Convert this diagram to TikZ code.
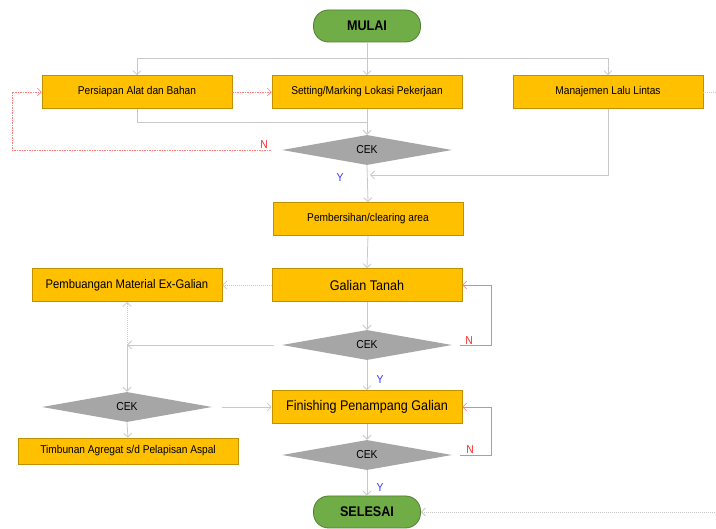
\documentclass[tikz,border=0pt]{standalone}
\usepackage{fontspec}
\setmainfont{Liberation Sans}[FakeStretch=0.9]
\usetikzlibrary{shapes.geometric,arrows.meta}
\definecolor{boxfill}{HTML}{FFC000}
\definecolor{boxline}{HTML}{BF9000}
\definecolor{greenfill}{HTML}{70AD47}
\definecolor{greenline}{HTML}{507E32}
\definecolor{decfill}{HTML}{A6A6A6}
\definecolor{conncol}{HTML}{C8C8C8}
\definecolor{nred}{HTML}{FF2B2B}
\definecolor{nline}{HTML}{FF7A7A}
\definecolor{yblue}{HTML}{3333FF}
\tikzset{
  procbox/.style={draw=boxline, line width=0.6pt, fill=boxfill, minimum width=190pt, minimum height=33pt, inner sep=2pt, font=\fontsize{11.3}{13}\selectfont},
  bigbox/.style={procbox, font=\fontsize{14}{16}\selectfont},
  termbox/.style={draw=greenline, line width=0.8pt, fill=greenfill, rounded corners=15pt, minimum width=107pt, minimum height=32pt, font=\fontsize{14}{16}\selectfont\bfseries},
  decbox/.style={diamond, fill=decfill, minimum width=170pt, minimum height=30pt, inner sep=0pt, aspect=5.6, font=\fontsize{11.5}{13}\selectfont},
  conn/.style={draw=conncol, line width=0.8pt},
  arr/.style={conn, -{Straight Barb[length=4pt,width=8pt]}},
  dotarr/.style={arr, dash pattern=on 1pt off 1pt},
  redarr/.style={draw=nline, line width=0.6pt, -{Straight Barb[length=4pt,width=8pt]}},
  reddot/.style={redarr, dash pattern=on 1.5pt off 1pt},
  nlab/.style={text=nred, font=\fontsize{11.5}{13}\selectfont},
  ylab/.style={text=yblue, font=\fontsize{11.5}{13}\selectfont},
}
\begin{document}
\begin{tikzpicture}[x=1pt,y=-1pt]
\clip (0,0) rectangle (716,529);
\fill[white] (0,0) rectangle (716,529);
% nodes
\node[termbox] (mulai) at (367,26) {MULAI};
\node[procbox] (pers) at (137,92) {Persiapan Alat dan Bahan};
\node[procbox] (set) at (367,92) {Setting/Marking Lokasi Pekerjaan};
\node[procbox] (man) at (608,92) {Manajemen Lalu Lintas};
\node[decbox] (cek1) at (367,150) {CEK};
\node[procbox] (pemb) at (368,219) {Pembersihan/clearing area};
\node[bigbox] (gal) at (367,285) {Galian Tanah};
\node[procbox, font=\fontsize{12.5}{14}\selectfont] (buang) at (127,285) {Pembuangan Material Ex-Galian};
\node[decbox] (cek2) at (367,345) {CEK};
\node[decbox] (cek3) at (127,407) {CEK};
\node[bigbox] (fin) at (367,407) {Finishing Penampang Galian};
\node[procbox, minimum width=220pt, minimum height=26pt] (timb) at (128,451) {Timbunan Agregat s/d Pelapisan Aspal};
\node[decbox] (cek4) at (367,455) {CEK};
\node[termbox] (sel) at (367,512) {SELESAI};
\coordinate (split) at (367,58);
\coordinate (j1) at (367,122);
\coordinate (j2) at (370,175);
\coordinate (j3) at (127,345);
% labels
\node[nlab] (n1) at (264,145) {N};
\node[ylab] (y1) at (340,178) {Y};
\node[nlab] (n2) at (469,341) {N};
\node[ylab] (y2) at (380,380) {Y};
\node[nlab] (n3) at (470,450) {N};
\node[ylab] (y3) at (380,488) {Y};
% connectors
\draw[conn] (mulai.south) -- (split);
\draw[arr] (split) -| (pers.north);
\draw[arr] (split) -| (man.north);
\draw[arr] (split) -- (set.north);
\draw[reddot] (pers.east) -- (set.west);
\draw[conn] (pers.south) |- (j1);
\draw[arr] (set.south) -- (cek1.north);
\draw[reddot] ([xshift=-11pt]cek1.west) -- (12,150) |- (pers.west);
\draw[arr] (man.south) |- (j2);
\draw[arr] (cek1.south) -- (pemb.north);
\draw[arr] (pemb.south) -- (gal.north);
\draw[dotarr] (gal.west) -- (buang.east);
\draw[arr] (gal.south) -- (cek2.north);
\draw[redarr] ([xshift=8pt]cek2.east) -- (491,345) |- (gal.east);
\draw[arr] ([xshift=-8pt]cek2.west) -- (j3);
\draw[dotarr] (j3) -- (buang.south);
\draw[arr] (j3) -- (cek3.north);
\draw[arr] ([xshift=10pt]cek3.east) -- (fin.west);
\draw[arr] (cek2.south) -- (fin.north);
\draw[arr] (cek3.south) -- (timb.north);
\draw[arr] (fin.south) -- (cek4.north);
\draw[redarr] ([xshift=8pt]cek4.east) -- (491,455) |- (fin.east);
\draw[arr] (cek4.south) -- (sel.north);
\draw[conn, dash pattern=on 1pt off 1pt] (man.east) -- ++(30,0) coordinate (off);
\draw[dotarr] (off) |- (sel.east);
\end{tikzpicture}
\end{document}
